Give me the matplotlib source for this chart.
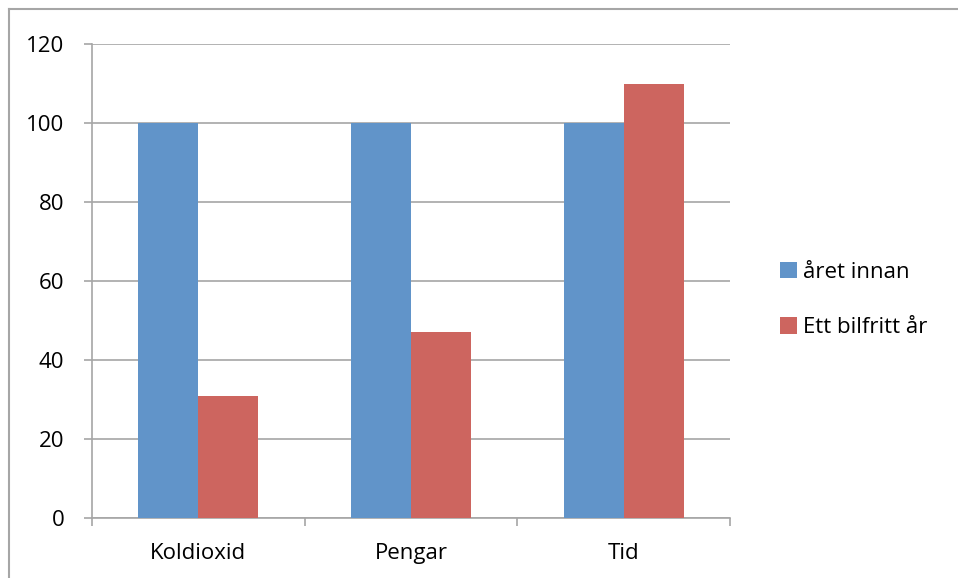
import matplotlib
matplotlib.use("Agg")
import matplotlib.pyplot as plt
from matplotlib.patches import Patch
from matplotlib.lines import Line2D
import numpy as np

categories = ["Koldioxid", "Pengar", "Tid"]
series_names = ["året innan", "Ett bilfritt år"]
aret_innan = [100, 100, 100]
bilfritt = [31, 47, 110]
yticks = [0, 20, 40, 60, 80, 100, 120]

blue = "#6194C9"
red = "#CD655F"
grid = "#A6A6A6"

plt.rcParams['font.family'] = ['Open Sans', 'DejaVu Sans']
fs = 16

fig = plt.figure(figsize=(9.58, 5.78), dpi=100)
ax = fig.add_axes([92/958, 1-518/578, (730-92)/958, (518-44)/578])

x = np.arange(len(categories))
w = 60/212.67
ax.bar(x - w/2, aret_innan, w, color=blue, zorder=3)
ax.bar(x + w/2, bilfritt, w, color=red, zorder=3)

ax.set_xlim(-0.5, len(categories) - 0.5)
ax.set_ylim(0, 120)
ax.set_yticks(yticks)
ax.set_yticklabels([str(v) for v in yticks], fontsize=fs)
ax.yaxis.grid(True, color=grid, linewidth=1.2, zorder=0)
ax.set_axisbelow(True)

ax.set_xticks(np.arange(-0.5, len(categories), 1.0))
ax.set_xticklabels([])
ax.set_xticks(x, minor=True)
ax.set_xticklabels(categories, minor=True, fontsize=fs)
ax.tick_params(axis='x', which='minor', length=0, pad=18)
ax.tick_params(axis='x', which='major', length=6, color=grid, width=1.2)
ax.tick_params(axis='y', length=6, color=grid, width=1.2, pad=14)

for s in ["top", "right"]:
    ax.spines[s].set_visible(False)
for s in ["left", "bottom"]:
    ax.spines[s].set_color(grid)
    ax.spines[s].set_linewidth(1.2)

handles = [Patch(facecolor=blue, edgecolor='none'), Patch(facecolor=red, edgecolor='none')]
fig.legend(handles, series_names, loc='center left', bbox_to_anchor=(780/958, 1-300/578),
           frameon=False, fontsize=fs, handlelength=0.75, handleheight=0.75,
           handletextpad=0.3, labelspacing=1.55, borderpad=0, borderaxespad=0)

# outer chart frame (top and left visible)
fig.add_artist(Line2D([9/958, 9/958], [0, 1-9/578], transform=fig.transFigure, color=grid, linewidth=1.5))
fig.add_artist(Line2D([9/958, 1], [1-9/578, 1-9/578], transform=fig.transFigure, color=grid, linewidth=1.5))

fig.savefig("out.png", dpi=100)
